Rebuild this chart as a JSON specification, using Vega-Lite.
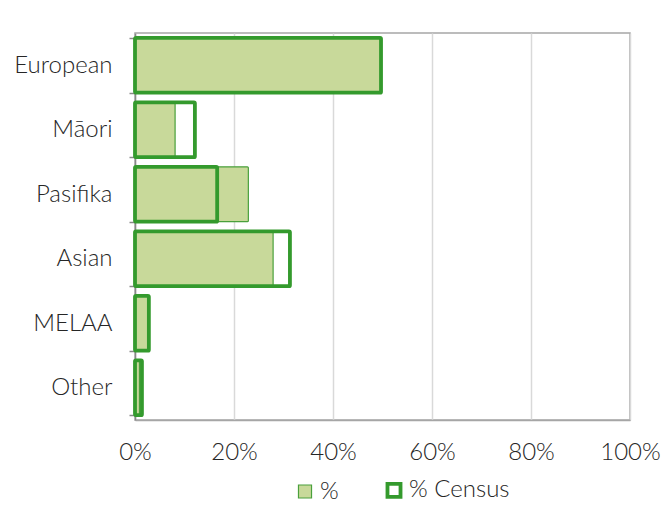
{
  "$schema": "https://vega.github.io/schema/vega-lite/v6.json",
  "width": 495,
  "height": 387,
  "autosize": "none",
  "padding": {"left": 135, "top": 33, "right": 40, "bottom": 96},
  "background": "white",
  "config": {
    "font": "Lato",
    "view": {"stroke": "#a6a6a6", "strokeWidth": 1.5},
    "axis": {"labelFont": "Lato", "labelFontWeight": 300, "labelFontSize": 24, "labelColor": "#262626"},
    "legend": {"labelFont": "Lato", "labelFontWeight": 300, "labelFontSize": 24, "labelColor": "#262626"}
  },
  "data": {
    "values": [
      {"group": "European", "series": "%", "value": 0.497},
      {"group": "Māori", "series": "%", "value": 0.081},
      {"group": "Pasifika", "series": "%", "value": 0.229},
      {"group": "Asian", "series": "%", "value": 0.279},
      {"group": "MELAA", "series": "%", "value": 0.027},
      {"group": "Other", "series": "%", "value": 0.009},
      {"group": "European", "series": "% Census", "value": 0.497},
      {"group": "Māori", "series": "% Census", "value": 0.121},
      {"group": "Pasifika", "series": "% Census", "value": 0.166},
      {"group": "Asian", "series": "% Census", "value": 0.313},
      {"group": "MELAA", "series": "% Census", "value": 0.028},
      {"group": "Other", "series": "% Census", "value": 0.014}
    ]
  },
  "mark": {"type": "bar", "cornerRadius": 1},
  "encoding": {
    "y": {
      "field": "group",
      "type": "nominal",
      "sort": ["European", "Māori", "Pasifika", "Asian", "MELAA", "Other"],
      "scale": {"paddingInner": 0.15, "paddingOuter": 0.075},
      "axis": {
        "title": null,
        "tickBand": "extent",
        "tickSize": 6,
        "tickColor": "#888888",
        "tickWidth": 1.5,
        "domainColor": "#888888",
        "domainWidth": 1.5,
        "labelPadding": 17
      }
    },
    "x": {
      "field": "value",
      "type": "quantitative",
      "stack": null,
      "scale": {"domain": [0, 1]},
      "axis": {
        "title": null,
        "format": ".0%",
        "values": [0, 0.2, 0.4, 0.6, 0.8, 1],
        "labelOverlap": false,
        "labelFlush": false,
        "labelBound": false,
        "ticks": false,
        "domainColor": "#a6a6a6",
        "domainWidth": 1.5,
        "gridColor": "#d9d9d9",
        "gridWidth": 1.5,
        "labelPadding": 20
      }
    },
    "fill": {
      "field": "series",
      "type": "nominal",
      "scale": {"domain": ["%", "% Census"], "range": ["#c8d99a", "transparent"]},
      "legend": {
        "title": null,
        "orient": "none",
        "direction": "horizontal",
        "legendX": 158,
        "legendY": 445,
        "symbolType": "square",
        "symbolSize": 170,
        "columnPadding": 40,
        "labelOffset": 3,
        "labelBaseline": "middle"
      }
    },
    "stroke": {
      "field": "series",
      "type": "nominal",
      "scale": {"domain": ["%", "% Census"], "range": ["#4aa03c", "#349a2d"]},
      "legend": {
        "title": null,
        "orient": "none",
        "direction": "horizontal",
        "legendX": 158,
        "legendY": 445,
        "symbolType": "square",
        "symbolSize": 170,
        "columnPadding": 40,
        "labelOffset": 3,
        "labelBaseline": "middle"
      }
    },
    "strokeWidth": {
      "field": "series",
      "type": "nominal",
      "scale": {"domain": ["%", "% Census"], "range": [1.2, 3.8]},
      "legend": {
        "title": null,
        "orient": "none",
        "direction": "horizontal",
        "legendX": 158,
        "legendY": 445,
        "symbolType": "square",
        "symbolSize": 170,
        "columnPadding": 40,
        "labelOffset": 3,
        "labelBaseline": "middle"
      }
    },
    "order": {"field": "series"}
  }
}
